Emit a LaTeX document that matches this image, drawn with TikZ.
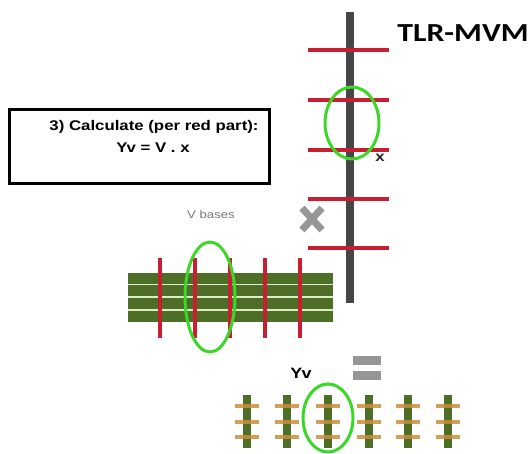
\documentclass[tikz,border=0pt]{standalone}
\usepackage{fontspec}
\setmainfont{Liberation Sans}
\newfontfamily\calib{Carlito}
\definecolor{redc}{RGB}{200,30,50}
\definecolor{barc}{RGB}{70,70,70}
\definecolor{greenc}{RGB}{76,110,38}
\definecolor{ellc}{RGB}{60,215,40}
\definecolor{orangec}{RGB}{205,140,60}
\definecolor{grayx}{RGB}{150,150,150}
\definecolor{creamc}{RGB}{225,235,200}
\tikzset{
  redbar/.style={draw=redc, line width=3.5pt},
  ellring/.style={draw=ellc, line width=3pt},
  lbl/.style={inner sep=0pt, font=\bfseries, xscale=1.2},
}
\begin{document}
\begin{tikzpicture}[x=1pt,y=-1pt]
\useasboundingbox (0,0) rectangle (530,453);
% top vector x
\fill[barc] (346,12) rectangle (354,303);
\foreach \yy in {50,100,150,199,248} \draw[redbar] (308,\yy) -- (389,\yy);
\draw[ellring] (352,123) ellipse (27 and 36);
\node[lbl, font=\bfseries\fontsize{14}{16}\selectfont, text=black!85] (xl) at (380,158) {x};
\node[lbl, font=\calib\bfseries\fontsize{26}{28}\selectfont, xscale=1.02] (title) at (463,33) {TLR-MVM};
% instruction box
\draw[line width=3.5pt] (9.5,109.5) rectangle (269.5,183.5);
\node[lbl, font=\bfseries\fontsize{14}{16}\selectfont] (t1) at (154,127) {3) Calculate (per red part):};
\node[lbl, font=\bfseries\fontsize{14}{16}\selectfont] (t2) at (153,148) {Yv = V . x};
% multiply sign
\draw[grayx, line width=7pt] (302,208) -- (322,230) (322,208) -- (302,230);
% V bases
\node[lbl, font=\fontsize{11}{13}\selectfont, text=grayx!80!black] (vb) at (211,215) {V bases};
\fill[greenc] (128,273) rectangle (333,322);
\foreach \yy in {284.5,297,310} \draw[creamc, line width=1.6pt] (128,\yy) -- (333,\yy);
\foreach \xx in {160,195,230,265,300} \draw[redbar] (\xx,258) -- (\xx,338);
\draw[ellring] (210,297) ellipse (25 and 55);
% equals
\fill[grayx] (353,356) rectangle (381,365);
\fill[grayx] (353,371) rectangle (381,380);
\node[lbl, font=\bfseries\fontsize{15}{17}\selectfont] (yv) at (301,373) {Yv};
% Yv result
\foreach \xx in {247,287,328,369,408,448} {
  \fill[greenc] (\xx-4,395) rectangle (\xx+4,448);
  \foreach \yy in {406,422,437} \draw[orangec, line width=3.5pt, opacity=0.85] (\xx-12,\yy) -- (\xx+12,\yy);
}
\draw[ellring] (328,418) ellipse (25 and 34);
\end{tikzpicture}
\end{document}
